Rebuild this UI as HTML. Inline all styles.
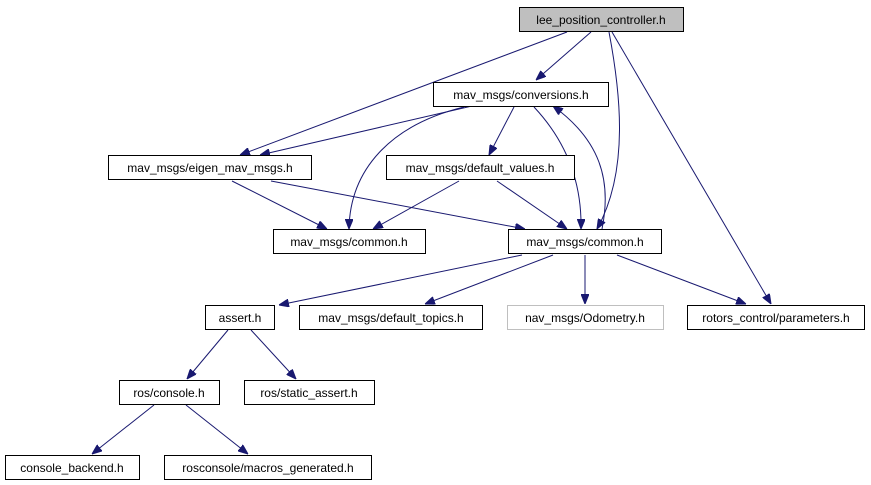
<!DOCTYPE html>
<html><head><style>
body{margin:0;background:#fff;}
svg{display:block;}
text{font-family:"Liberation Sans",sans-serif;font-size:12px;fill:#000;text-anchor:middle;}
.b{fill:#fff;stroke:#000;stroke-width:1;}
.e{fill:none;stroke:#191970;stroke-width:1;}
</style></head><body>
<svg width="871" height="485" viewBox="0 0 871 485" xmlns="http://www.w3.org/2000/svg">
<defs><marker id="a" markerWidth="10" markerHeight="8" refX="10" refY="4" orient="auto" markerUnits="userSpaceOnUse"><path d="M0,0 L10,4 L0,8 Z" fill="#191970" stroke="#191970"/></marker></defs>
<g class="e" marker-end="url(#a)">
<path d="M567,32 L240,155"/>
<path d="M591,32 L536,80"/>
<path d="M609,32 C620,90 630,170 597,229"/>
<path d="M612,32 L771,304"/>
<path d="M472,106 L260,155"/>
<path d="M464,107 C390,125 350,170 349,229"/>
<path d="M514,107 L489,155"/>
<path d="M534,107 C565,140 582,180 581,229"/>
<path d="M602,229 C612,180 600,140 553,106"/>
<path d="M232,181 L327,229"/>
<path d="M271,181 L525,229"/>
<path d="M459,181 L373,229"/>
<path d="M497,181 L567,229"/>
<path d="M522,255 L279,305"/>
<path d="M553,255 L425,304"/>
<path d="M585,255 L585,304"/>
<path d="M617,255 L746,304"/>
<path d="M228,330 L187,379"/>
<path d="M251,330 L296,379"/>
<path d="M154,405 L92,454"/>
<path d="M186,405 L248,454"/>
</g>
<rect x="519.5" y="7.5" width="164" height="24" fill="#bfbfbf" stroke="#000"/><text x="601" y="24">lee_position_controller.h</text>
<rect class="b" x="433.5" y="82.5" width="175" height="24"/><text x="521" y="99">mav_msgs/conversions.h</text>
<rect class="b" x="108.5" y="155.5" width="203" height="24"/><text x="210" y="172">mav_msgs/eigen_mav_msgs.h</text>
<rect class="b" x="386.5" y="155.5" width="188" height="24"/><text x="480" y="172">mav_msgs/default_values.h</text>
<rect class="b" x="273.5" y="229.5" width="152" height="24"/><text x="349" y="246">mav_msgs/common.h</text>
<rect class="b" x="508.5" y="229.5" width="153" height="24"/><text x="585" y="246">mav_msgs/common.h</text>
<rect class="b" x="205.5" y="305.5" width="69" height="24"/><text x="240" y="322">assert.h</text>
<rect class="b" x="299.5" y="305.5" width="183" height="24"/><text x="391" y="322">mav_msgs/default_topics.h</text>
<rect x="507.5" y="305.5" width="156" height="24" fill="#fff" stroke="#bfbfbf"/><text x="585" y="322">nav_msgs/Odometry.h</text>
<rect class="b" x="687.5" y="305.5" width="177" height="24"/><text x="776" y="322">rotors_control/parameters.h</text>
<rect class="b" x="119.5" y="380.5" width="100" height="24"/><text x="169" y="397">ros/console.h</text>
<rect class="b" x="244.5" y="380.5" width="130" height="24"/><text x="309" y="397">ros/static_assert.h</text>
<rect class="b" x="5.5" y="455.5" width="134" height="24"/><text x="72" y="472">console_backend.h</text>
<rect class="b" x="164.5" y="455.5" width="207" height="24"/><text x="268" y="472">rosconsole/macros_generated.h</text>
</svg>
</body></html>
